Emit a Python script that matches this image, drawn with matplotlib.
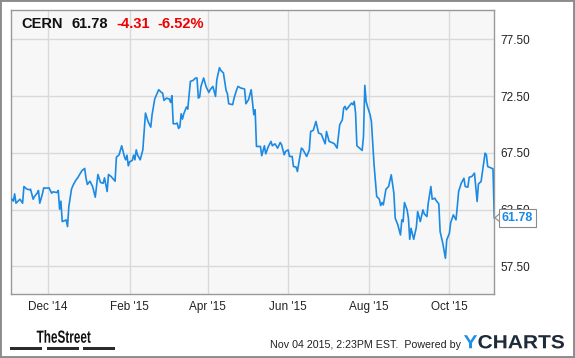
import matplotlib
matplotlib.use('Agg')
import matplotlib.pyplot as plt
import matplotlib.transforms as mtransforms
from matplotlib.lines import Line2D
from matplotlib.patches import Rectangle, PathPatch
from matplotlib.textpath import TextPath
from matplotlib.font_manager import FontProperties
import pandas as pd

plt.rcParams['font.family'] = ['Liberation Sans', 'DejaVu Sans']

TICKER = 'CERN'
LAST = 61.78
CHANGE = -4.31
CHANGE_PCT = -6.52
STAMP = 'Nov 04 2015, 2:23PM EST.  Powered by'

dates = [
    # Nov '14
    '2014-11-03', '2014-11-04', '2014-11-05', '2014-11-06', '2014-11-07', '2014-11-09',
    '2014-11-10', '2014-11-12', '2014-11-13', '2014-11-15', '2014-11-17', '2014-11-18',
    '2014-11-20', '2014-11-21', '2014-11-23', '2014-11-24', '2014-11-25', '2014-11-27',
    '2014-11-28', '2014-11-30',
    # Dec '14
    '2014-12-02', '2014-12-04', '2014-12-05', '2014-12-08', '2014-12-09', '2014-12-10',
    '2014-12-11', '2014-12-12', '2014-12-14', '2014-12-15', '2014-12-16', '2014-12-17',
    '2014-12-19', '2014-12-20', '2014-12-22', '2014-12-24', '2014-12-25', '2014-12-27',
    '2014-12-29', '2014-12-30', '2014-12-31',
    # Jan '15
    '2015-01-02', '2015-01-04', '2015-01-06', '2015-01-08', '2015-01-10', '2015-01-12',
    '2015-01-13', '2015-01-15', '2015-01-16', '2015-01-18', '2015-01-21', '2015-01-22',
    '2015-01-24', '2015-01-26', '2015-01-28', '2015-01-29', '2015-01-30', '2015-01-31',
    # Feb '15
    '2015-02-01', '2015-02-03', '2015-02-04', '2015-02-05', '2015-02-06', '2015-02-07',
    '2015-02-09', '2015-02-11', '2015-02-13', '2015-02-15', '2015-02-17', '2015-02-18',
    '2015-02-20', '2015-02-23', '2015-02-25', '2015-02-26', '2015-02-27',
    # Mar '15
    '2015-03-01', '2015-03-03', '2015-03-04', '2015-03-05', '2015-03-06', '2015-03-08',
    '2015-03-09', '2015-03-10', '2015-03-11', '2015-03-12', '2015-03-13', '2015-03-14',
    '2015-03-16', '2015-03-17', '2015-03-19', '2015-03-21', '2015-03-23', '2015-03-24',
    '2015-03-25', '2015-03-26', '2015-03-27', '2015-03-29', '2015-03-31',
    # Apr '15
    '2015-04-02', '2015-04-03', '2015-04-05', '2015-04-07', '2015-04-08', '2015-04-10',
    '2015-04-11', '2015-04-13', '2015-04-15', '2015-04-16', '2015-04-17', '2015-04-20',
    '2015-04-21', '2015-04-23', '2015-04-24', '2015-04-26', '2015-04-29', '2015-04-30',
    # May '15
    '2015-05-02', '2015-05-04', '2015-05-05', '2015-05-06', '2015-05-07', '2015-05-08',
    '2015-05-11', '2015-05-12', '2015-05-14', '2015-05-15', '2015-05-17', '2015-05-19',
    '2015-05-20', '2015-05-22', '2015-05-24', '2015-05-26', '2015-05-27', '2015-05-29',
    '2015-05-30',
    # Jun '15
    '2015-06-01', '2015-06-02', '2015-06-04', '2015-06-05', '2015-06-07', '2015-06-08',
    '2015-06-09', '2015-06-11', '2015-06-12', '2015-06-15', '2015-06-17', '2015-06-18',
    '2015-06-20', '2015-06-22', '2015-06-24', '2015-06-26', '2015-06-29', '2015-06-30',
    # Jul '15
    '2015-07-02', '2015-07-04', '2015-07-06', '2015-07-08', '2015-07-10', '2015-07-12',
    '2015-07-13', '2015-07-14', '2015-07-15', '2015-07-17', '2015-07-19', '2015-07-20',
    '2015-07-21', '2015-07-22', '2015-07-23', '2015-07-25', '2015-07-27', '2015-07-28',
    '2015-07-29', '2015-07-30', '2015-07-31',
    # Aug '15
    '2015-08-02', '2015-08-03', '2015-08-05', '2015-08-07', '2015-08-09', '2015-08-10',
    '2015-08-11', '2015-08-12', '2015-08-14', '2015-08-16', '2015-08-18', '2015-08-20',
    '2015-08-21', '2015-08-23', '2015-08-25', '2015-08-26', '2015-08-27', '2015-08-28',
    '2015-08-30', '2015-08-31',
    # Sep '15
    '2015-09-01', '2015-09-02', '2015-09-04', '2015-09-06', '2015-09-07', '2015-09-09',
    '2015-09-11', '2015-09-12', '2015-09-14', '2015-09-15', '2015-09-17', '2015-09-18',
    '2015-09-20', '2015-09-21', '2015-09-23', '2015-09-24', '2015-09-26', '2015-09-28',
    '2015-09-29',
    # Oct '15
    '2015-10-01', '2015-10-02', '2015-10-04', '2015-10-06', '2015-10-07', '2015-10-08',
    '2015-10-10', '2015-10-12', '2015-10-13', '2015-10-15', '2015-10-16', '2015-10-18',
    '2015-10-20', '2015-10-22', '2015-10-23', '2015-10-25', '2015-10-28', '2015-10-29',
    '2015-10-30',
    # Nov '15
    '2015-11-03', '2015-11-04',
]

prices = [
    63.35, 63.41, 63.24, 63.88, 63.06, 63.29,
    63.41, 63.06, 64.53, 64.32, 64.24, 64.29,
    63.41, 63.65, 63.94, 64.18, 63.06, 63.88,
    64.41, 64.38,
    64.41, 63.94, 64.06, 64.00, 64.18, 62.53,
    63.24, 61.44, 61.53, 61.59, 61.00, 62.76,
    64.29, 64.59, 65.03, 65.35, 65.56, 65.94,
    66.12, 65.26, 64.71,
    65.00, 64.53, 63.59, 65.59, 64.88, 64.82,
    65.29, 64.09, 65.59, 65.41, 65.00, 67.12,
    67.32, 68.12, 67.18, 66.88, 67.29, 66.35,
    66.71, 66.82, 67.29, 66.88, 67.76, 67.32,
    66.88, 67.76, 71.00, 70.24, 69.76, 70.85,
    72.24, 73.06, 72.82, 72.76, 72.12,
    72.32, 72.24, 71.94, 72.53, 70.06, 70.06,
    70.12, 69.65, 69.76, 70.94, 70.47, 70.94,
    71.53, 71.35, 73.79, 73.88, 74.09, 74.09,
    72.32, 72.41, 73.35, 74.09, 73.29,
    72.82, 73.06, 73.35, 72.47, 73.94, 75.00,
    74.76, 74.53, 73.00, 72.71, 71.82, 71.74,
    72.29, 73.06, 73.35, 73.21, 73.12, 71.82,
    72.18, 73.06, 71.94, 70.85, 71.29, 68.06,
    68.06, 67.24, 68.12, 67.41, 68.06, 68.50,
    68.12, 68.29, 67.91, 68.41, 68.21, 67.32,
    67.62,
    67.76, 67.18, 67.18, 66.29, 66.24, 65.85,
    66.59, 67.91, 67.82, 67.18, 67.76, 69.38,
    69.47, 70.26, 69.24, 69.15, 68.29, 69.38,
    68.50, 68.41, 68.29, 67.91, 69.97, 70.41,
    71.44, 71.59, 71.29, 71.59, 71.88, 71.74,
    72.03, 71.00, 68.12, 67.91, 67.71, 68.94,
    73.44, 72.03, 71.59,
    70.85, 70.26, 66.44, 63.65, 63.41, 62.85,
    63.12, 62.91, 64.29, 64.53, 65.56, 63.94,
    61.74, 61.15, 60.26, 61.59, 61.44, 63.12,
    62.47, 61.74,
    59.88, 60.85, 59.88, 60.94, 62.32, 61.44,
    62.47, 62.12, 61.88, 63.06, 64.53, 63.41,
    63.50, 63.29, 63.00, 60.56, 59.53, 58.21,
    59.82,
    60.41, 61.35, 62.03, 61.59, 62.76, 64.09,
    64.82, 65.26, 64.53, 64.47, 65.35, 65.41,
    65.71, 63.21, 64.76, 64.97, 67.47, 67.32,
    66.29,
    66.09, 61.78,
]

y_ticks = [57.5, 62.5, 67.5, 72.5, 77.5]
x_ticks = ['2014-12-01', '2015-02-01', '2015-04-01', '2015-06-01', '2015-08-01', '2015-10-01']
x_labels = ["Dec '14", "Feb '15", "Apr '15", "Jun '15", "Aug '15", "Oct '15"]

LINE = '#1b8ae4'
RED = '#ee0000'
W, H = 575, 358

fig = plt.figure(figsize=(W / 100, H / 100), dpi=100)
fig.patch.set_facecolor('white')
ax = fig.add_axes([10.7 / W, 1 - 294 / H, (494.3 - 10.7) / W, 284 / H])
ax.set_facecolor('#f7f7f7')

ax.plot(pd.to_datetime(dates), prices, color=LINE, lw=1.2, solid_joinstyle='round', zorder=3)
ax.set_xlim(pd.Timestamp('2014-11-03'), pd.Timestamp('2015-11-04'))
ax.set_ylim(55.06, 80.08)

ax.yaxis.tick_right()
ax.set_yticks(y_ticks)
ax.set_yticklabels([f'{v:.2f}' for v in y_ticks])
ax.set_xticks(pd.to_datetime(x_ticks))
ax.set_xticklabels(x_labels)
ax.tick_params(length=0, labelsize=8.5, colors='#222222')
ax.tick_params(axis='y', pad=4.2)
ax.tick_params(axis='x', pad=5)
ax.grid(color='#d9d9d9', lw=1)
ax.set_axisbelow(True)
for s in ax.spines.values():
    s.set_color('#999999')
    s.set_linewidth(1)

# header over the plot
fx = lambda px: px / W
fy = lambda py: 1 - py / H
fig.text(fx(21.7), fy(28.3), TICKER, fontsize=10.5, fontweight='bold', color='#111111')
fig.text(fx(71.7), fy(28.3), f'{LAST:.2f}', fontsize=10.5, fontweight='bold', color='#111111')
fig.text(fx(116.7), fy(28.3), f'{CHANGE:.2f}', fontsize=10.5, fontweight='bold', color=RED)
fig.text(fx(157), fy(28.3), f'{CHANGE_PCT:.2f}%', fontsize=10.5, fontweight='bold', color=RED)

# last value flag on the right axis
blend = mtransforms.blended_transform_factory(ax.transAxes, ax.transData)
ax.annotate(f'{LAST:.2f}', xy=(1, LAST), xycoords=blend, xytext=(5.3, 0),
            textcoords='offset points', ha='left', va='center', fontsize=9,
            fontweight='bold', color=LINE, annotation_clip=False, zorder=6,
            bbox=dict(boxstyle='square,pad=0.25', fc='white', ec='#8a8a8a', lw=0.8))
x0 = ax.transAxes.transform((1, 0))[0]
y0 = ax.transData.transform((0, LAST))[1]
notch = [(x0 + 4.8, y0 + 3.5), (x0 + 0.6, y0), (x0 + 4.8, y0 - 3.5)]
fig.add_artist(plt.Polygon(notch, closed=True, fc='white', ec='none',
                           transform=mtransforms.IdentityTransform(), zorder=7))
fig.add_artist(Line2D([p[0] for p in notch], [p[1] for p in notch], color='#8a8a8a', lw=0.8,
                      transform=mtransforms.IdentityTransform(), zorder=8))

# footer: condensed "TheStreet" logo, squeezed to the logo's box
bold = FontProperties(family='Liberation Sans', weight='bold')
logo = TextPath((0, 0), 'TheStreet', size=1, prop=bold)
ext = logo.get_extents()
sx = 54 / ext.width
sy = 12.7 / ext.y1
logo_tf = mtransforms.Affine2D().translate(-ext.x0, 0).scale(sx, sy).translate(36.7, H - 342.7)
fig.add_artist(PathPatch(logo, fc='#111111', ec='none', transform=logo_tf))
for a, b in [(10, 42), (46.7, 78.7), (83.3, 115)]:
    fig.add_artist(Rectangle((fx(a), fy(350)), (b - a) / W, 3.3 / H, transform=fig.transFigure,
                             fc='#2b2b2b', ec='none'))
fig.text(fx(269.5), fy(348.3), STAMP, fontsize=7.7, color='#222222')

# YCHARTS wordmark: blue Y, navy CHARTS, fitted to its box
y_path = TextPath((0, 0), 'Y', size=1, prop=bold)
c_path = TextPath((0, 0), 'CHARTS', size=1, prop=bold)
ye, ce = y_path.get_extents(), c_path.get_extents()
gap = 0.06
total = ye.width + gap + ce.width
wsx = (564 - 463.9) / total
wsy = 13.3 / ce.y1
base = H - 348.3
fig.add_artist(PathPatch(y_path, fc='#1e90e8', ec='none',
                         transform=mtransforms.Affine2D().translate(-ye.x0, 0)
                         .scale(wsx, wsy).translate(463.9, base)))
fig.add_artist(PathPatch(c_path, fc='#1d2b3a', ec='none',
                         transform=mtransforms.Affine2D().translate(-ce.x0 + ye.width + gap, 0)
                         .scale(wsx, wsy).translate(463.9, base)))

# outer frame
fig.add_artist(Rectangle((0, 0), 1, 1, transform=fig.transFigure, fill=False, ec='#8c8c8c', lw=2.8))

fig.savefig('out.png', dpi=100)
